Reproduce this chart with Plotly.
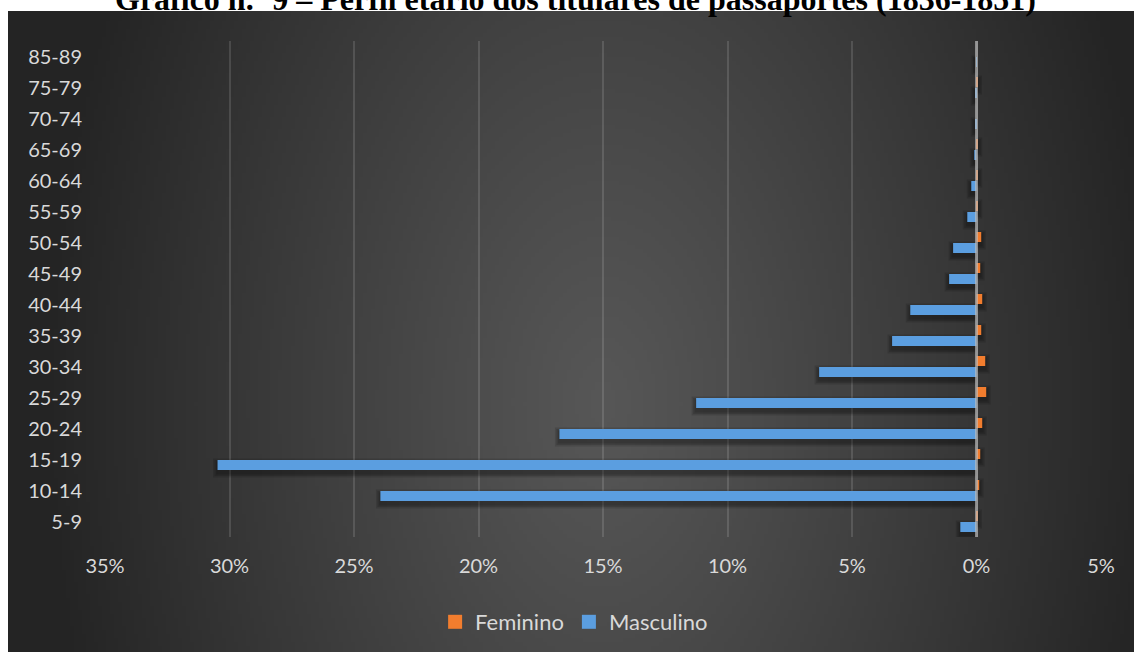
import base64
import struct
import zlib

import numpy as np
import plotly.graph_objects as go

# Age groups (bottom to top) and share of passport holders, in percent
age_groups = ["5-9", "10-14", "15-19", "20-24", "25-29", "30-34", "35-39", "40-44",
              "45-49", "50-54", "55-59", "60-64", "65-69", "70-74", "75-79", "85-89"]
masculino = [0.65, 23.94, 30.48, 16.75, 11.26, 6.32, 3.39, 2.66,
             1.10, 0.94, 0.37, 0.21, 0.09, 0.05, 0.05, 0.02]
feminino = [0.04, 0.11, 0.15, 0.23, 0.39, 0.35, 0.19, 0.23,
            0.15, 0.19, 0.05, 0.05, 0.05, 0.00, 0.04, 0.00]

x_tick_vals = [-35, -30, -25, -20, -15, -10, -5, 0, 5]
x_tick_text = ["35%", "30%", "25%", "20%", "15%", "10%", "5%", "0%", "5%"]

TITLE = "Gráfico n.º 9 – Perfil etário dos titulares de passaportes (1836-1851)"

BLUE = "#5b9ee0"
ORANGE = "#f27d2e"

W, H = 1134, 652
# plot area in pixels
L, R, T, B = 105, 33, 41, 115
PW, PH = W - L - R, H - T - B
# dark chart panel in pixels
PX0, PY0 = 8, 11

# pixel -> data conversions (one category band, one percent)
BAND_PX = PH / len(age_groups)
PCT_PX = PW / 40.0


def band(px):
    return px / BAND_PX


def pct(px):
    return px / PCT_PX


def png_data_uri(rgb):
    h, w, _ = rgb.shape
    raw = b"".join(b"\x00" + rgb[i].tobytes() for i in range(h))

    def chunk(tag, data):
        c = struct.pack(">I", len(data)) + tag + data
        return c + struct.pack(">I", zlib.crc32(tag + data) & 0xFFFFFFFF)

    png = (b"\x89PNG\r\n\x1a\n"
           + chunk(b"IHDR", struct.pack(">IIBBBBB", w, h, 8, 2, 0, 0, 0))
           + chunk(b"IDAT", zlib.compress(raw, 9))
           + chunk(b"IEND", b""))
    return "data:image/png;base64," + base64.b64encode(png).decode()


# radial dark-grey gradient for the chart panel
pw_px, ph_px = W - PX0, H - PY0
sc = 4
gw, gh = pw_px // sc, ph_px // sc
yy, xx = np.mgrid[0:gh, 0:gw].astype(float)
cx, cy = (600 - PX0) / sc, (400 - PY0) / sc
d = np.sqrt(((xx - cx) / (560 / sc)) ** 2 + ((yy - cy) / (900 / sc)) ** 2)
d = np.clip(d, 0, 1)
inner, outer = 87.0, 36.0
v = (inner + (outer - inner) * d ** 1.1).astype(np.uint8)
bg = np.dstack([v, v, v])
bg_uri = png_data_uri(bg)

font_name = "Lato"
txt_col = "#d9d9d9"

BAR_H = 10      # bar thickness, px
SHIFT = 3       # shadow drop, px
SPREAD = 1.5    # shadow blur step, px

fig = go.Figure()

# soft drop shadows under the bars
for k in (3, 2, 1):
    grow = k * SPREAD
    fig.add_trace(go.Bar(
        y=age_groups, x=[-(m + pct(grow)) for m in masculino], orientation="h",
        offset=band(-0.5 - BAR_H - SHIFT - grow), width=band(BAR_H + 2 * grow),
        marker=dict(color="rgba(0,0,0,0.13)", line=dict(width=0)),
        showlegend=False, hoverinfo="skip",
    ))
    fig.add_trace(go.Bar(
        y=age_groups, x=[(f + pct(grow)) if f > 0 else 0 for f in feminino], orientation="h",
        offset=band(0.5 - SHIFT - grow), width=band(BAR_H + 2 * grow),
        marker=dict(color="rgba(0,0,0,0.13)", line=dict(width=0)),
        showlegend=False, hoverinfo="skip",
    ))

fig.add_trace(go.Bar(
    y=age_groups, x=[-m for m in masculino], orientation="h", name="Masculino",
    offset=band(-0.5 - BAR_H), width=band(BAR_H),
    marker=dict(color=BLUE, line=dict(width=0)), showlegend=False,
))
fig.add_trace(go.Bar(
    y=age_groups, x=feminino, orientation="h", name="Feminino",
    offset=band(0.5), width=band(BAR_H),
    marker=dict(color=ORANGE, line=dict(width=0)), showlegend=False,
))
# legend entries with square keys
for name, col in [("Masculino", BLUE), ("Feminino", ORANGE)]:
    fig.add_trace(go.Scatter(
        x=[None], y=[None], mode="markers", name=name,
        marker=dict(symbol="square", size=14, color=col),
    ))

fig.update_layout(
    width=W, height=H,
    margin=dict(l=L, r=R, t=T, b=B, autoexpand=False),
    paper_bgcolor="white",
    plot_bgcolor="rgba(0,0,0,0)",
    barmode="overlay",
    showlegend=True,
    legend=dict(
        orientation="h", traceorder="reversed",
        x=0.471, xanchor="center", y=(537 - 622) / PH, yanchor="middle",
        font=dict(family=font_name, size=22, color=txt_col),
        bgcolor="rgba(0,0,0,0)", itemwidth=30,
    ),
    xaxis=dict(
        range=[-35, 5], tickvals=x_tick_vals, ticktext=x_tick_text,
        showgrid=True, gridcolor="rgba(255,255,255,0.13)", gridwidth=1.5,
        zeroline=False, showline=False, ticks="",
        ticklabelstandoff=15,
        tickfont=dict(family=font_name, size=20, color=txt_col),
    ),
    yaxis=dict(
        categoryorder="array", categoryarray=age_groups,
        range=[-0.5, len(age_groups) - 0.5],
        showgrid=False, zeroline=False, showline=False, ticks="",
        ticklabelstandoff=22,
        tickfont=dict(family=font_name, size=20, color=txt_col),
    ),
    images=[dict(
        source=bg_uri, xref="paper", yref="paper",
        x=(PX0 - L) / PW, y=1 + (T - PY0) / PH,
        sizex=pw_px / PW, sizey=ph_px / PH,
        xanchor="left", yanchor="top", sizing="stretch", layer="below",
    )],
    shapes=[dict(
        type="line", xref="x", yref="paper", x0=0, x1=0, y0=0, y1=1,
        line=dict(color="rgba(190,190,190,0.65)", width=3), layer="above",
    )],
    annotations=[dict(
        text="<b>" + TITLE + "</b>", xref="paper", yref="paper",
        x=(575 - L) / PW, y=1 + (T - 19) / PH, xanchor="center", yanchor="bottom",
        showarrow=False, font=dict(family="Liberation Serif", size=32, color="black"),
    )],
)

fig.write_html("out.html")
